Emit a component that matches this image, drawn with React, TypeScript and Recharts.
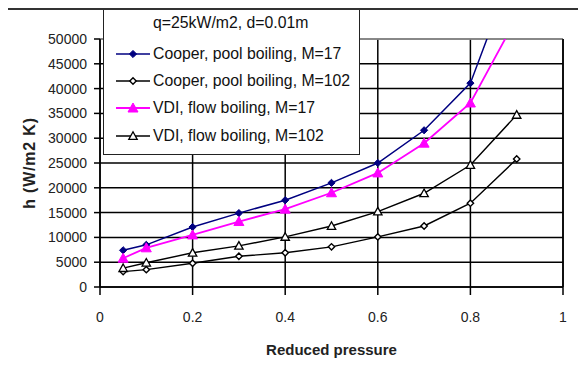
import React from 'react';
import { LineChart, Line, XAxis, YAxis, CartesianGrid, ReferenceLine, Legend, Label } from 'recharts';

const PR = [0.05, 0.1, 0.2, 0.3, 0.4, 0.5, 0.6, 0.7, 0.8, 0.9];
const COOPER_M17 = [7400, 8500, 12100, 14900, 17500, 21000, 25000, 31600, 41100, 66000];
const COOPER_M102 = [3100, 3500, 4800, 6200, 6900, 8100, 10100, 12300, 16900, 25800];
const VDI_M17 = [5800, 7900, 10500, 13200, 15700, 19000, 23000, 29000, 37100, 54300];
const VDI_M102 = [3800, 4900, 6900, 8300, 10100, 12300, 15200, 18900, 24600, 34700];

const X_TICKS = [0, 0.2, 0.4, 0.6, 0.8, 1];
const Y_TICKS = [0, 5000, 10000, 15000, 20000, 25000, 30000, 35000, 40000, 45000, 50000];

const LEGEND_TITLE = 'q=25kW/m2, d=0.01m';
const SERIES_NAMES = [
  'Cooper, pool boiling, M=17',
  'Cooper, pool boiling, M=102',
  'VDI, flow boiling, M=17',
  'VDI, flow boiling, M=102',
];
const X_LABEL = 'Reduced pressure';
const Y_LABEL = 'h (W/m2 K)';

const data = PR.map((x, i) => ({
  x,
  c17: COOPER_M17[i],
  c102: COOPER_M102[i],
  v17: VDI_M17[i],
  v102: VDI_M102[i],
}));

const FONT = '"Liberation Sans", Arial, sans-serif';

type Shape = 'diamondFilled' | 'diamondOpen' | 'triFilled' | 'triOpen';

function marker(shape: Shape, cx: number, cy: number, color: string, key?: any) {
  if (shape === 'diamondFilled') {
    const s = 3.6;
    return <path key={key} d={`M${cx},${cy - s}L${cx + s},${cy}L${cx},${cy + s}L${cx - s},${cy}Z`} fill={color} stroke={color} strokeWidth={1} />;
  }
  if (shape === 'diamondOpen') {
    const s = 3.2;
    return <path key={key} d={`M${cx},${cy - s}L${cx + s},${cy}L${cx},${cy + s}L${cx - s},${cy}Z`} fill="#fff" stroke={color} strokeWidth={1.4} />;
  }
  if (shape === 'triFilled') {
    const s = 5;
    return <path key={key} d={`M${cx},${cy - s}L${cx + s},${cy + s * 0.8}L${cx - s},${cy + s * 0.8}Z`} fill={color} stroke={color} strokeWidth={1} />;
  }
  const s = 4.2;
  return <path key={key} d={`M${cx},${cy - s}L${cx + s},${cy + s * 0.8}L${cx - s},${cy + s * 0.8}Z`} fill="#fff" stroke={color} strokeWidth={1.3} />;
}

const SERIES: { key: string; color: string; shape: Shape; width: number }[] = [
  { key: 'c17', color: '#000080', shape: 'diamondFilled', width: 1.5 },
  { key: 'c102', color: '#000000', shape: 'diamondOpen', width: 1.4 },
  { key: 'v17', color: '#FF00FF', shape: 'triFilled', width: 1.8 },
  { key: 'v102', color: '#000000', shape: 'triOpen', width: 1.4 },
];

const makeDot = (shape: Shape, color: string) => (props: any) => {
  const { cx, cy, index } = props;
  if (cx == null || cy == null || cy < 30) return <g key={index} />;
  return marker(shape, cx, cy, color, index);
};

const LegendBox = () => {
  const rows = [44, 71, 98, 126];
  return (
    <div
      style={{
        position: 'relative',
        width: 257,
        height: 146,
        boxSizing: 'border-box',
        border: '1.5px solid #222',
        background: '#fff',
        fontFamily: FONT,
        fontSize: 15.8,
        color: '#111',
      }}
    >
      <div style={{ position: 'absolute', left: 49, top: 13 - 9, lineHeight: '18px', whiteSpace: 'nowrap' }}>{LEGEND_TITLE}</div>
      {SERIES.map((s, i) => (
        <React.Fragment key={s.key}>
          <svg style={{ position: 'absolute', left: 11, top: rows[i] - 8 }} width={36} height={16}>
            <line x1={1} y1={8} x2={35} y2={8} stroke={s.color} strokeWidth={s.width} />
            {marker(s.shape, 18, 8, s.color)}
          </svg>
          <div style={{ position: 'absolute', left: 49, top: rows[i] - 9, lineHeight: '18px', whiteSpace: 'nowrap' }}>
            {SERIES_NAMES[i]}
          </div>
        </React.Fragment>
      ))}
    </div>
  );
};

export default function App() {
  return (
    <div style={{ position: 'relative', width: 586, height: 379, margin: -8, overflow: 'hidden', background: '#fff', fontFamily: FONT }}>
      <LineChart
        width={586}
        height={379}
        data={data}
        margin={{ top: 39, right: 23, bottom: 0, left: 0 }}
      >
        <CartesianGrid stroke="#000" strokeWidth={1.5} />
        <XAxis
          type="number"
          dataKey="x"
          domain={[0, 1]}
          ticks={X_TICKS}
          height={92}
          tickSize={8}
          tickMargin={17}
          stroke="#000"
          tick={{ fill: '#222', fontSize: 14, fontFamily: FONT }}
          axisLine={{ stroke: '#000', strokeWidth: 1.5 }}
          tickLine={{ stroke: '#000', strokeWidth: 1.5 }}
        >
          <Label value={X_LABEL} position="insideBottom" offset={24} style={{ fontSize: 15, fontWeight: 'bold', fill: '#222', fontFamily: FONT }} />
        </XAxis>
        <YAxis
          type="number"
          domain={[0, 50000]}
          allowDataOverflow
          ticks={Y_TICKS}
          width={100}
          tickSize={6}
          tickMargin={7}
          tick={{ fill: '#222', fontSize: 14, fontFamily: FONT }}
          axisLine={{ stroke: '#000', strokeWidth: 1.5 }}
          tickLine={{ stroke: '#000', strokeWidth: 1.5 }}
        />
        <ReferenceLine y={50000} stroke="#a0a0a0" strokeWidth={1.5} />
        <ReferenceLine x={1} stroke="#000" strokeWidth={1.5} />
        {SERIES.map((s, i) => (
          <Line
            key={s.key}
            type="linear"
            dataKey={s.key}
            name={SERIES_NAMES[i]}
            stroke={s.color}
            strokeWidth={s.width}
            dot={makeDot(s.shape, s.color)}
            activeDot={false}
            isAnimationActive={false}
          />
        ))}
        <Legend
          layout="horizontal"
          verticalAlign="middle"
          align="center"
          content={() => <LegendBox />}
          wrapperStyle={{ position: 'absolute', left: 103, top: 9, width: 257, height: 146 }}
        />
      </LineChart>
      <svg style={{ position: 'absolute', left: 0, top: 0, pointerEvents: 'none' }} width={586} height={379}>
        <line x1={7} y1={9} x2={586} y2={9} stroke="#333" strokeWidth={2} />
        <line x1={7} y1={9} x2={7} y2={379} stroke="#333" strokeWidth={2} />
        <text
          x={29}
          y={163}
          transform="rotate(-90 29 163)"
          textAnchor="middle"
          dominantBaseline="central"
          style={{ fontSize: 16, fontWeight: 'bold', fill: '#222', fontFamily: FONT, letterSpacing: 0.8 }}
        >
          {Y_LABEL}
        </text>
      </svg>
    </div>
  );
}
